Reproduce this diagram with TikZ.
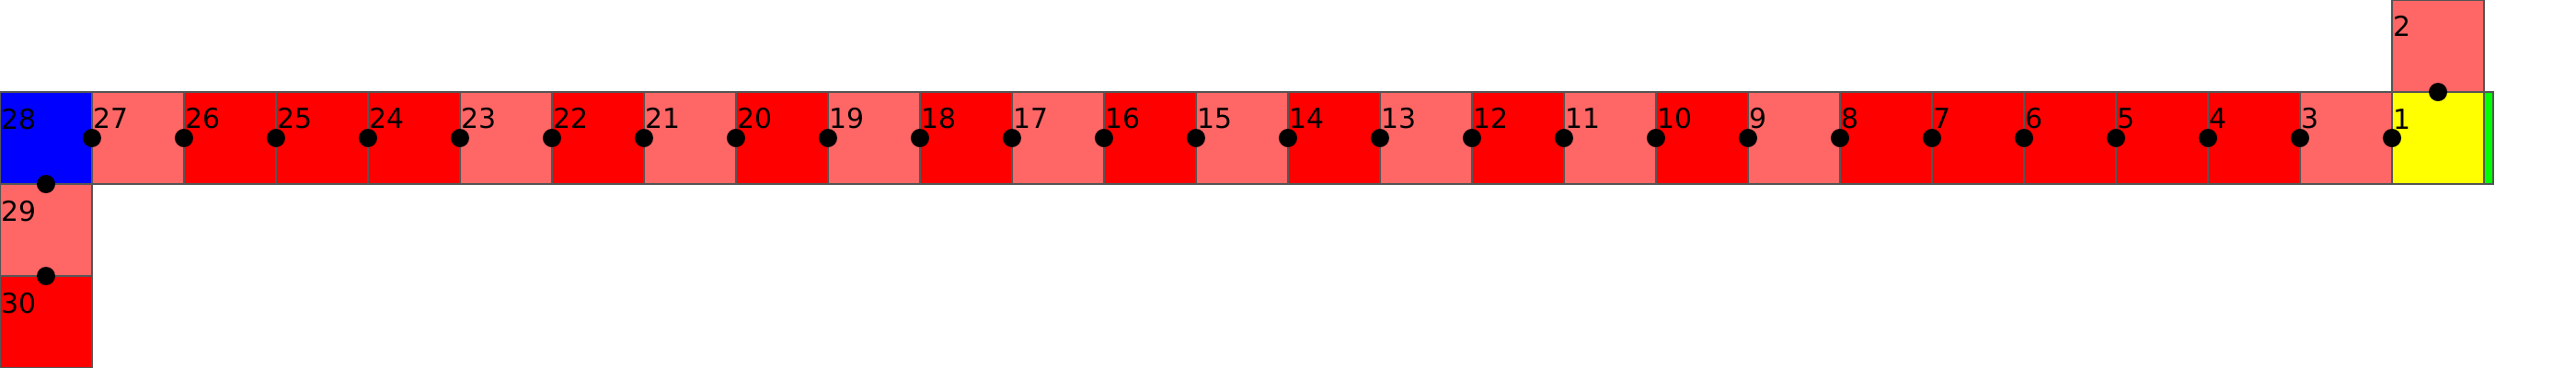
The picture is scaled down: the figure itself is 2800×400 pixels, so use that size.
\documentclass[tikz,border=0pt]{standalone}
\usepackage{fontspec}
\setmainfont{DejaVu Sans}
\usetikzlibrary{calc}
\definecolor{lred}{RGB}{255,102,102}
\definecolor{fred}{RGB}{255,0,0}
\definecolor{fblue}{RGB}{0,0,255}
\definecolor{fyellow}{RGB}{255,255,0}
\definecolor{fgreen}{RGB}{0,255,0}
\definecolor{edge}{RGB}{85,85,85}
\begin{document}
\begin{tikzpicture}[x=0.01cm,y=-0.01cm,
  sq/.style={draw=edge,line width=0.35pt,minimum size=1cm,inner sep=0pt,outer sep=0pt},
  lbl/.style={anchor=base west,inner sep=0pt,font=\fontsize{8.5pt}{10pt}\selectfont},
  dot/.style={fill=black}]
\useasboundingbox (0,0) rectangle (2800,400);
% row squares 3..27
\foreach \n/\c in {3/lred,4/fred,5/fred,6/fred,7/fred,8/fred,9/lred,10/fred,11/lred,12/fred,13/lred,14/fred,15/lred,16/fred,17/lred,18/fred,19/lred,20/fred,21/lred,22/fred,23/lred,24/fred,25/fred,26/fred,27/lred}{
  \pgfmathtruncatemacro{\xc}{100*(28-\n)+50}
  \node[sq,fill=\c] (s\n) at (\xc,150) {};
  \node[lbl] (t\n) at ($(s\n.north west)+(1,40)$) {\n};
}
\node[sq,fill=fyellow] (s1) at (2650,150) {};
\node[lbl] (t1) at (2601,140) {1};
\node[sq,fill=lred] (s2) at (2650,50) {};
\node[lbl] (t2) at (2601,40) {2};
\node[sq,fill=fblue] (s28) at (50,150) {};
\node[lbl] (t28) at (1,140) {28};
\node[sq,fill=lred] (s29) at (50,250) {};
\node[lbl] (t29) at (1,240) {29};
\node[sq,fill=fred] (s30) at (50,350) {};
\node[lbl] (t30) at (1,340) {30};
\node[draw=edge,line width=0.35pt,fill=fgreen,minimum width=0.1cm,minimum height=1cm,inner sep=0pt,outer sep=0pt] (g) at (2705,150) {};
% dots
\fill[dot] (s2.south) circle (0.1cm);
\foreach \n in {1,3,4,5,6,7,8,9,10,11,12,13,14,15,16,17,18,19,20,21,22,23,24,25,26,27}{
  \fill[dot] (s\n.west) circle (0.1cm);
}
\fill[dot] (s28.south) circle (0.1cm);
\fill[dot] (s29.south) circle (0.1cm);
\end{tikzpicture}
\end{document}
